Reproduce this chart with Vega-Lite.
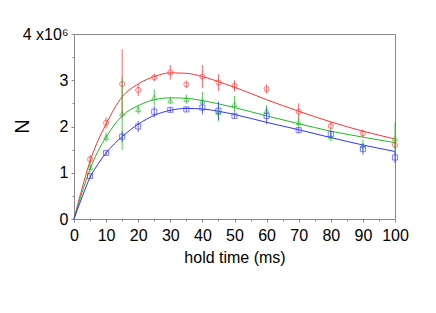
{
  "$schema": "https://vega.github.io/schema/vega-lite/v6.json",
  "width": 321,
  "height": 185,
  "autosize": "none",
  "padding": {"left": 74, "top": 34, "right": 41, "bottom": 94},
  "background": "white",
  "config": {
    "view": {"stroke": "#888", "strokeWidth": 1},
    "font": "Liberation Sans",
    "axis": {"grid": false, "domainColor": "#888", "tickColor": "#888", "labelColor": "black", "titleColor": "black", "labelFont": "Liberation Sans", "titleFont": "Liberation Sans", "titleFontWeight": "normal"}
  },
  "datasets": {
    "curves": [
      {"t": 0, "N": 0, "s": "red"}, {"t": 2.5, "N": 0.66, "s": "red"}, {"t": 5, "N": 1.25, "s": "red"}, {"t": 7.5, "N": 1.70, "s": "red"}, {"t": 10, "N": 2.05, "s": "red"}, {"t": 12.5, "N": 2.38, "s": "red"}, {"t": 15, "N": 2.64, "s": "red"}, {"t": 20, "N": 2.92, "s": "red"}, {"t": 25, "N": 3.08, "s": "red"}, {"t": 30, "N": 3.16, "s": "red"}, {"t": 35, "N": 3.15, "s": "red"}, {"t": 40, "N": 3.08, "s": "red"}, {"t": 45, "N": 2.97, "s": "red"}, {"t": 50, "N": 2.85, "s": "red"}, {"t": 60, "N": 2.58, "s": "red"}, {"t": 70, "N": 2.33, "s": "red"}, {"t": 80, "N": 2.10, "s": "red"}, {"t": 90, "N": 1.90, "s": "red"}, {"t": 100, "N": 1.73, "s": "red"},
      {"t": 0, "N": 0, "s": "green"}, {"t": 2.5, "N": 0.57, "s": "green"}, {"t": 5, "N": 1.08, "s": "green"}, {"t": 7.5, "N": 1.47, "s": "green"}, {"t": 10, "N": 1.77, "s": "green"}, {"t": 12.5, "N": 2.03, "s": "green"}, {"t": 15, "N": 2.23, "s": "green"}, {"t": 20, "N": 2.45, "s": "green"}, {"t": 25, "N": 2.58, "s": "green"}, {"t": 30, "N": 2.62, "s": "green"}, {"t": 35, "N": 2.61, "s": "green"}, {"t": 40, "N": 2.56, "s": "green"}, {"t": 45, "N": 2.49, "s": "green"}, {"t": 50, "N": 2.41, "s": "green"}, {"t": 60, "N": 2.23, "s": "green"}, {"t": 70, "N": 2.06, "s": "green"}, {"t": 80, "N": 1.90, "s": "green"}, {"t": 90, "N": 1.77, "s": "green"}, {"t": 100, "N": 1.65, "s": "green"},
      {"t": 0, "N": 0, "s": "blue"}, {"t": 2.5, "N": 0.47, "s": "blue"}, {"t": 5, "N": 0.90, "s": "blue"}, {"t": 7.5, "N": 1.19, "s": "blue"}, {"t": 10, "N": 1.43, "s": "blue"}, {"t": 12.5, "N": 1.62, "s": "blue"}, {"t": 15, "N": 1.78, "s": "blue"}, {"t": 20, "N": 2.05, "s": "blue"}, {"t": 25, "N": 2.24, "s": "blue"}, {"t": 30, "N": 2.35, "s": "blue"}, {"t": 35, "N": 2.39, "s": "blue"}, {"t": 40, "N": 2.38, "s": "blue"}, {"t": 45, "N": 2.33, "s": "blue"}, {"t": 50, "N": 2.26, "s": "blue"}, {"t": 60, "N": 2.09, "s": "blue"}, {"t": 70, "N": 1.93, "s": "blue"}, {"t": 80, "N": 1.76, "s": "blue"}, {"t": 90, "N": 1.60, "s": "blue"}, {"t": 100, "N": 1.46, "s": "blue"}
    ],
    "points": [
      {"t": 5, "N": 1.29, "lo": 1.19, "hi": 1.39, "s": "red"},
      {"t": 10, "N": 2.08, "lo": 1.96, "hi": 2.20, "s": "red"},
      {"t": 15, "N": 2.92, "lo": 2.17, "hi": 3.67, "s": "red"},
      {"t": 20, "N": 2.79, "lo": 2.66, "hi": 2.92, "s": "red"},
      {"t": 25, "N": 3.06, "lo": 2.98, "hi": 3.14, "s": "red"},
      {"t": 30, "N": 3.17, "lo": 3.01, "hi": 3.33, "s": "red"},
      {"t": 35, "N": 2.91, "lo": 2.83, "hi": 2.99, "s": "red"},
      {"t": 40, "N": 3.08, "lo": 2.83, "hi": 3.33, "s": "red"},
      {"t": 45, "N": 2.95, "lo": 2.77, "hi": 3.13, "s": "red"},
      {"t": 50, "N": 2.88, "lo": 2.76, "hi": 3.00, "s": "red"},
      {"t": 60, "N": 2.81, "lo": 2.71, "hi": 2.91, "s": "red"},
      {"t": 70, "N": 2.32, "lo": 2.14, "hi": 2.50, "s": "red"},
      {"t": 80, "N": 2.01, "lo": 1.91, "hi": 2.11, "s": "red"},
      {"t": 90, "N": 1.85, "lo": 1.77, "hi": 1.93, "s": "red"},
      {"t": 100, "N": 1.60, "lo": 1.52, "hi": 1.68, "s": "red"},
      {"t": 5, "N": 1.12, "lo": 1.02, "hi": 1.22, "s": "green"},
      {"t": 10, "N": 1.77, "lo": 1.67, "hi": 1.87, "s": "green"},
      {"t": 15, "N": 2.28, "lo": 1.49, "hi": 3.07, "s": "green"},
      {"t": 20, "N": 2.37, "lo": 2.27, "hi": 2.47, "s": "green"},
      {"t": 25, "N": 2.63, "lo": 2.46, "hi": 2.80, "s": "green"},
      {"t": 30, "N": 2.56, "lo": 2.48, "hi": 2.64, "s": "green"},
      {"t": 35, "N": 2.59, "lo": 2.49, "hi": 2.69, "s": "green"},
      {"t": 40, "N": 2.55, "lo": 2.35, "hi": 2.75, "s": "green"},
      {"t": 45, "N": 2.31, "lo": 2.11, "hi": 2.51, "s": "green"},
      {"t": 50, "N": 2.48, "lo": 2.30, "hi": 2.66, "s": "green"},
      {"t": 60, "N": 2.34, "lo": 2.22, "hi": 2.46, "s": "green"},
      {"t": 70, "N": 2.09, "lo": 1.99, "hi": 2.19, "s": "green"},
      {"t": 80, "N": 1.78, "lo": 1.68, "hi": 1.88, "s": "green"},
      {"t": 90, "N": 1.59, "lo": 1.47, "hi": 1.71, "s": "green"},
      {"t": 100, "N": 1.74, "lo": 1.39, "hi": 2.09, "s": "green"},
      {"t": 5, "N": 0.93, "lo": 0.88, "hi": 0.98, "s": "blue"},
      {"t": 10, "N": 1.43, "lo": 1.38, "hi": 1.48, "s": "blue"},
      {"t": 15, "N": 1.78, "lo": 1.66, "hi": 1.90, "s": "blue"},
      {"t": 20, "N": 2.00, "lo": 1.88, "hi": 2.12, "s": "blue"},
      {"t": 25, "N": 2.32, "lo": 2.20, "hi": 2.44, "s": "blue"},
      {"t": 30, "N": 2.36, "lo": 2.31, "hi": 2.41, "s": "blue"},
      {"t": 35, "N": 2.37, "lo": 2.32, "hi": 2.42, "s": "blue"},
      {"t": 40, "N": 2.41, "lo": 2.26, "hi": 2.56, "s": "blue"},
      {"t": 45, "N": 2.34, "lo": 2.14, "hi": 2.54, "s": "blue"},
      {"t": 50, "N": 2.23, "lo": 2.18, "hi": 2.28, "s": "blue"},
      {"t": 60, "N": 2.23, "lo": 2.05, "hi": 2.41, "s": "blue"},
      {"t": 70, "N": 1.92, "lo": 1.86, "hi": 1.98, "s": "blue"},
      {"t": 80, "N": 1.83, "lo": 1.75, "hi": 1.91, "s": "blue"},
      {"t": 90, "N": 1.51, "lo": 1.39, "hi": 1.63, "s": "blue"},
      {"t": 100, "N": 1.33, "lo": 1.21, "hi": 1.45, "s": "blue"}
    ]
  },
  "encoding": {
    "x": {"field": "t", "type": "quantitative", "scale": {"domain": [0, 100], "nice": false},
      "axis": {"title": "hold time (ms)", "values": [0,5,10,15,20,25,30,35,40,45,50,55,60,65,70,75,80,85,90,95,100],
        "labelExpr": "datum.value % 10 === 0 ? format(datum.value, 'd') : ''",
        "tickSize": {"condition": {"test": "datum.value % 10 === 0", "value": 3}, "value": 2},
        "labelFontSize": 16, "titleFontSize": 16, "labelPadding": 5, "titlePadding": 6, "labelFlush": false}},
    "y": {"field": "N", "type": "quantitative", "scale": {"domain": [0, 4], "nice": false},
      "axis": {"title": "N", "values": [0,0.5,1,1.5,2,2.5,3,3.5,4],
        "labelExpr": "datum.value === 4 ? '4 x10⁶' : (datum.value % 1 === 0 ? format(datum.value, 'd') : '')",
        "tickSize": {"condition": {"test": "datum.value % 1 === 0", "value": 3}, "value": 2},
        "labelFontSize": 16, "titleFontSize": 20, "labelPadding": 3, "labelFlush": false,
        "titleX": -52, "titleY": 92, "titleAngle": -90, "titleBaseline": "middle", "titleAlign": "center"}},
    "color": {"field": "s", "type": "nominal", "legend": null,
      "scale": {"domain": ["red", "green", "blue"], "range": ["#f33", "#2b2", "#33f"]}}
  },
  "layer": [
    {"data": {"name": "curves"}, "mark": {"type": "line", "strokeWidth": 1, "interpolate": "monotone"},
      "encoding": {"detail": {"field": "s"}}},
    {"data": {"name": "points"}, "mark": {"type": "rule", "strokeWidth": 1, "opacity": 0.75},
      "encoding": {"y": {"field": "lo", "type": "quantitative"}, "y2": {"field": "hi"}}},
    {"data": {"name": "points"}, "mark": {"type": "point", "filled": false, "size": 26, "strokeWidth": 0.9},
      "encoding": {"shape": {"field": "s", "type": "nominal", "legend": null,
        "scale": {"domain": ["red", "green", "blue"], "range": ["circle", "triangle-up", "square"]}}}},
    {"data": {"values": [{}]}, "mark": {"type": "rule", "color": "black", "strokeWidth": 1},
      "encoding": {"x": {"datum": 100}, "color": {"value": "black"}}}
  ]
}
